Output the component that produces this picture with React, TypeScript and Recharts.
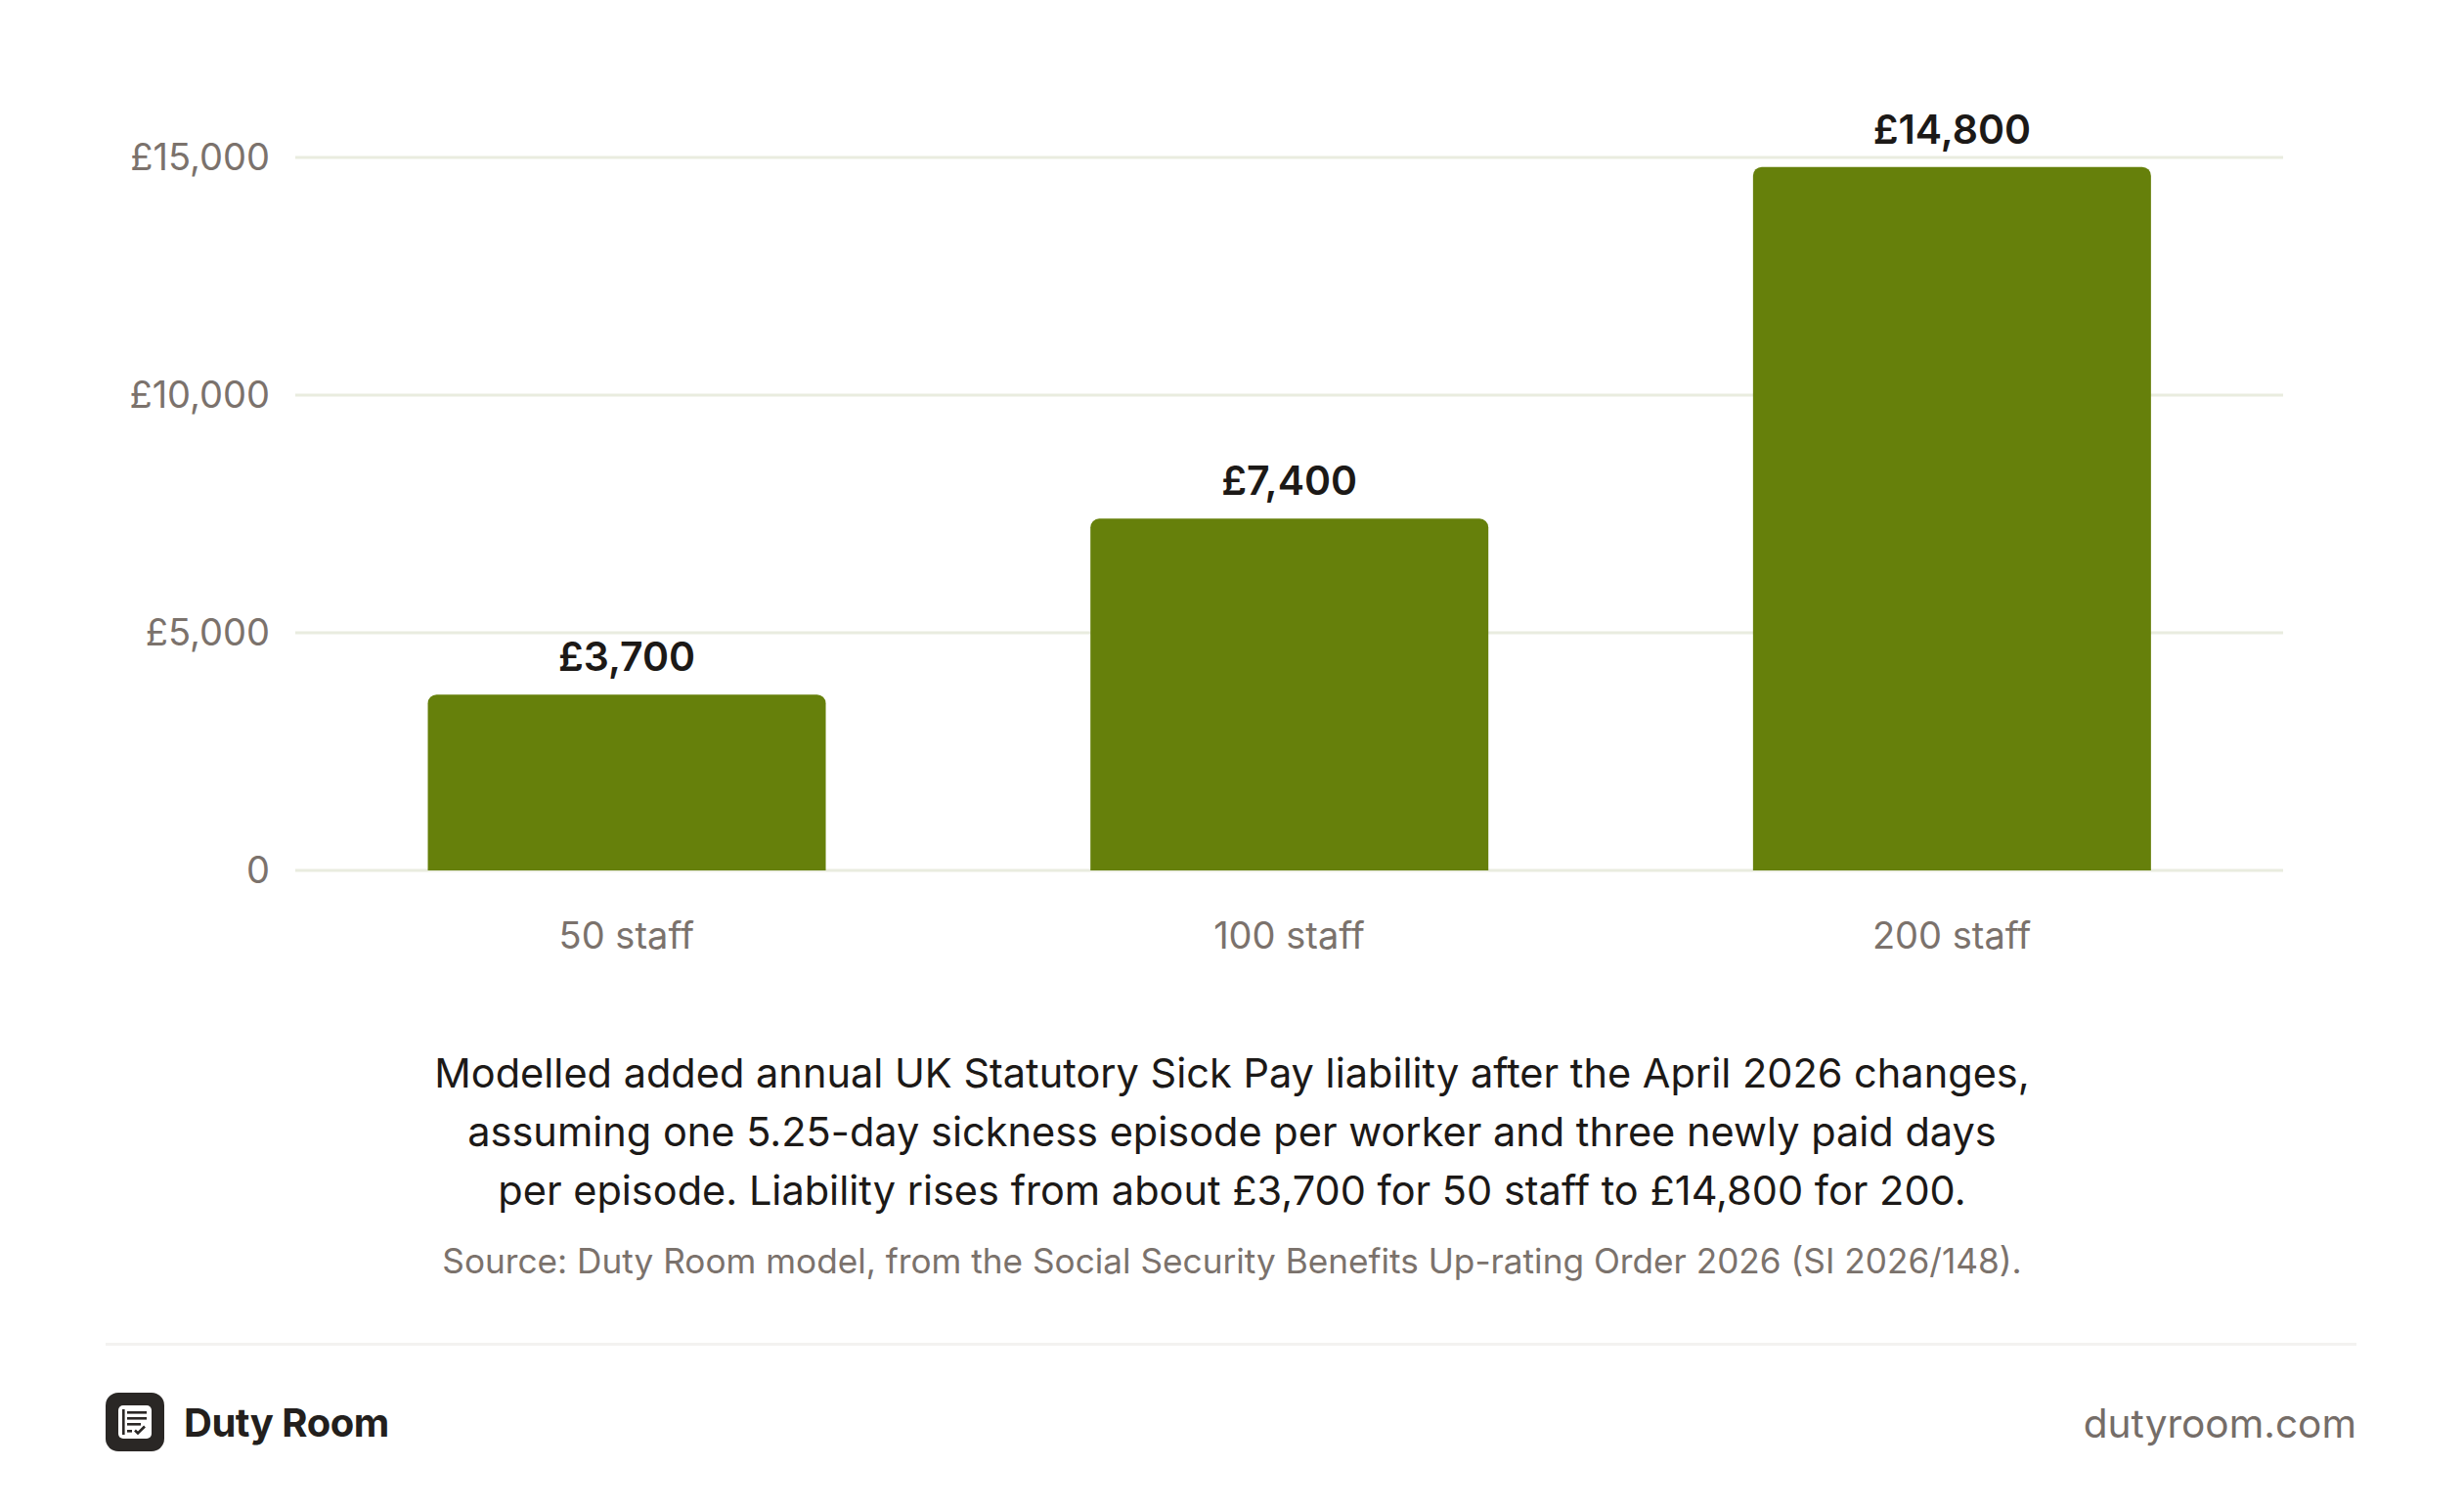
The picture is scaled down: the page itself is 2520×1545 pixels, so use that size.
import { BarChart, Bar, XAxis, YAxis, CartesianGrid, LabelList } from 'recharts'

const categories = ['50 staff', '100 staff', '200 staff']
const liability = [3700, 7400, 14800]
const yTicks = [0, 5000, 10000, 15000]

const captionLines = [
  'Modelled added annual UK Statutory Sick Pay liability after the April 2026 changes,',
  'assuming one 5.25-day sickness episode per worker and three newly paid days',
  'per episode. Liability rises from about £3,700 for 50 staff to £14,800 for 200.',
]
const sourceText = 'Source: Duty Room model, from the Social Security Benefits Up-rating Order 2026 (SI 2026/148).'

const data = categories.map((c, i) => ({ staff: c, value: liability[i] }))

const FONT = 'Inter, "Noto Sans", sans-serif'
const GREY = '#7b726c'
const INK = '#1c1917'

const money = (v: number) => (v === 0 ? '0' : `£${v.toLocaleString('en-GB')}`)

function Logo() {
  return (
    <svg width={60} height={60} viewBox="0 0 60 60">
      <rect x={0} y={0} width={60} height={60} rx={13} fill="#2a2725" />
      <rect x={13} y={13} width={34} height={34} rx={5} fill="#fff" />
      <rect x={17} y={17} width={2.6} height={26} fill="#2a2725" />
      <rect x={22} y={19} width={20} height={2.6} fill="#2a2725" />
      <rect x={22} y={25} width={20} height={2.6} fill="#2a2725" />
      <rect x={22} y={31} width={14} height={2.6} fill="#2a2725" />
      <rect x={22} y={38} width={5} height={2.6} fill="#2a2725" />
      <path d="M30 38.5 L33 41.5 L40 34.5" stroke="#2a2725" strokeWidth={2.6} fill="none" />
    </svg>
  )
}

export default function App() {
  return (
    <div
      style={{
        position: 'absolute',
        left: 0,
        top: 0,
        width: 2520,
        height: 1545,
        background: '#fff',
        fontFamily: FONT,
        overflow: 'hidden',
      }}
    >
      <BarChart
        width={2520}
        height={1055}
        data={data}
        margin={{ top: 161, right: 185, left: 202, bottom: 85 }}
        barCategoryGap="20%"
      >
        <CartesianGrid vertical={false} stroke="#e9ecdf" strokeWidth={3} />
        <XAxis
          dataKey="staff"
          axisLine={false}
          tickLine={false}
          tickSize={0}
          tickMargin={53}
          height={80}
          tick={{ fill: GREY, fontSize: 38, fontFamily: FONT }}
        />
        <YAxis
          domain={[0, 15000]}
          ticks={yTicks}
          axisLine={false}
          tickLine={false}
          tickSize={0}
          tickMargin={26}
          width={100}
          tickFormatter={money}
          tick={{ fill: GREY, fontSize: 38, fontFamily: FONT }}
        />
        <Bar dataKey="value" fill="#66800b" radius={[9, 9, 0, 0]} isAnimationActive={false}>
          <LabelList
            dataKey="value"
            position="top"
            offset={24}
            formatter={(v: number) => money(v)}
            style={{ fill: INK, fontSize: 41, fontWeight: 600, fontFamily: FONT }}
          />
        </Bar>
      </BarChart>

      {captionLines.map((line, i) => (
        <div
          key={i}
          style={{
            position: 'absolute',
            left: 0,
            width: 2520,
            top: 1067 + i * 60,
            lineHeight: '60px',
            fontSize: 41.5,
            color: INK,
            textAlign: 'center',
            whiteSpace: 'nowrap',
          }}
        >
          {line}
        </div>
      ))}
      <div
        style={{
          position: 'absolute',
          left: 0,
          width: 2520,
          top: 1269,
          lineHeight: '40px',
          fontSize: 35.2,
          color: GREY,
          textAlign: 'center',
          whiteSpace: 'nowrap',
        }}
      >
        {sourceText}
      </div>

      <div style={{ position: 'absolute', left: 108, top: 1373, width: 2302, height: 3, background: '#f3f2f0' }} />

      <div style={{ position: 'absolute', left: 108, top: 1424 }}>
        <Logo />
      </div>
      <div
        style={{
          position: 'absolute',
          left: 188,
          top: 1431,
          lineHeight: '48px',
          fontSize: 40,
          fontWeight: 700,
          color: '#231f1d',
          letterSpacing: -0.5,
        }}
      >
        Duty Room
      </div>
      <div
        style={{
          position: 'absolute',
          right: 2520 - 2410,
          top: 1431,
          lineHeight: '50px',
          fontSize: 40.6,
          color: '#756d68',
        }}
      >
        dutyroom.com
      </div>
    </div>
  )
}
